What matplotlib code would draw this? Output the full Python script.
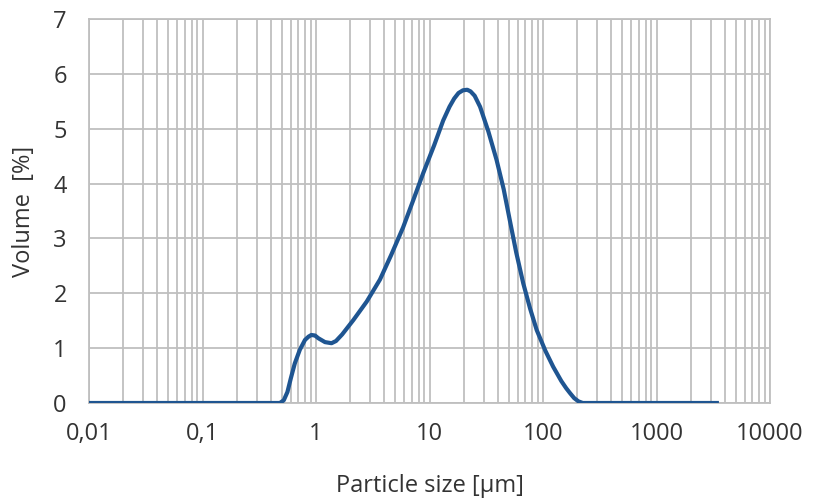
import matplotlib.pyplot as plt
from matplotlib.ticker import LogLocator, FixedLocator, NullFormatter

# particle size [um] and volume [%]
size = [0.01, 0.1, 0.48, 0.52, 0.56, 0.6, 0.65, 0.72, 0.8, 0.86, 0.91, 0.98,
        1.05, 1.2, 1.37, 1.5, 1.7, 2.13, 2.8, 3.66, 4.6, 5.85, 7.2, 8.8, 11,
        13.2, 15, 16.5, 18, 19.7, 21.5, 23, 25, 27.9, 33, 39, 45, 51, 58, 67,
        77, 88, 105, 123, 145, 160, 173, 188, 205, 224, 1000, 3400]
volume = [0, 0, 0, 0.05, 0.2, 0.45, 0.72, 0.97, 1.15, 1.21, 1.24, 1.23,
          1.18, 1.11, 1.09, 1.13, 1.25, 1.51, 1.85, 2.25, 2.7, 3.2, 3.7, 4.19, 4.7,
          5.15, 5.4, 5.55, 5.65, 5.70, 5.71, 5.68, 5.6, 5.40, 4.95, 4.43, 3.9, 3.33, 2.75, 2.18,
          1.72, 1.33, 0.95, 0.66, 0.4, 0.27, 0.18, 0.09, 0.03, 0, 0, 0]

x_ticks = [0.01, 0.1, 1, 10, 100, 1000, 10000]
x_labels = ['0,01', '0,1', '1', '10', '100', '1000', '10000']
y_ticks = [0, 1, 2, 3, 4, 5, 6, 7]

plt.rcParams['font.family'] = ['Open Sans', 'DejaVu Sans']

fig = plt.figure(figsize=(8.15, 5), dpi=100)
ax = fig.add_axes([0.1092, 0.194, 0.8356, 0.768])

ax.plot(size, volume, color='#1f5591', linewidth=3.0, solid_joinstyle='round', zorder=3)

ax.set_xscale('log')
ax.set_xlim(0.01, 10000)
ax.set_ylim(0, 7)
ax.xaxis.set_major_locator(FixedLocator(x_ticks))
ax.set_xticklabels(x_labels)
ax.xaxis.set_minor_locator(LogLocator(base=10, subs=range(2, 10), numticks=20))
ax.xaxis.set_minor_formatter(NullFormatter())
ax.set_yticks(y_ticks)

grid_c = '#bfbfbf'
ax.grid(True, which='major', axis='both', color=grid_c, linewidth=1.3)
ax.grid(True, which='minor', axis='x', color=grid_c, linewidth=1.3)
for s in ax.spines.values():
    s.set_color(grid_c)
    s.set_linewidth(1.3)

ax.tick_params(which='both', length=0, labelsize=17, colors='#333333', pad=14)
ax.tick_params(axis='y', pad=16)
ax.set_xlabel('Particle size [µm]', fontsize=17, color='#333333', labelpad=20)
ax.set_ylabel('Volume  [%]', fontsize=17, color='#333333', labelpad=12)

fig.savefig('out.png', dpi=100)
